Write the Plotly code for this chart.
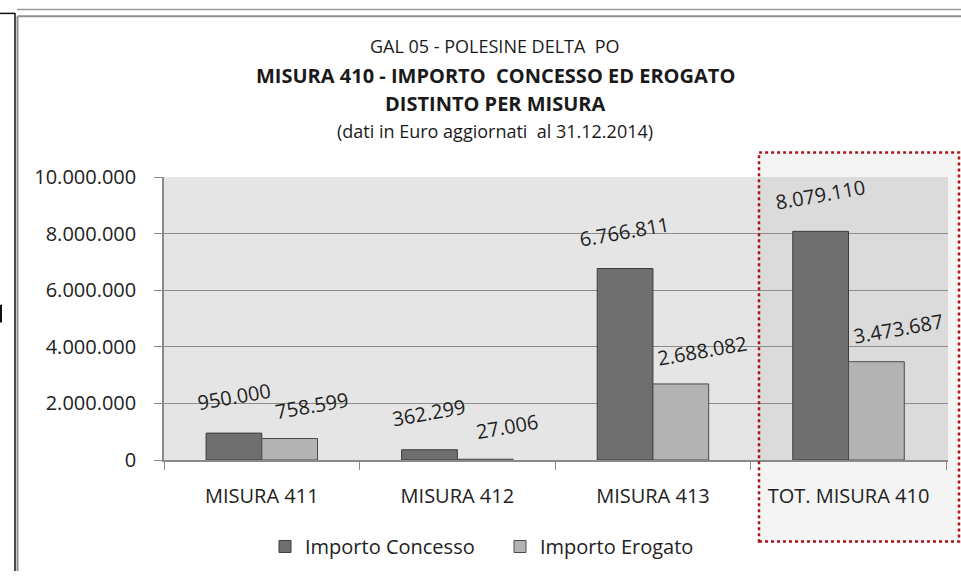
import plotly.graph_objects as go

categories = ["MISURA 411", "MISURA 412", "MISURA 413", "TOT. MISURA 410"]
concesso = [950000, 362299, 6766811, 8079110]
erogato = [758599, 27006, 2688082, 3473687]
series_names = ["Importo Concesso", "Importo Erogato"]
y_ticks = [0, 2000000, 4000000, 6000000, 8000000, 10000000]
title_lines = [
    "GAL 05 - POLESINE DELTA  PO",
    "MISURA 410 - IMPORTO  CONCESSO ED EROGATO",
    "DISTINTO PER MISURA",
    "(dati in Euro aggiornati  al 31.12.2014)",
]

FONT = "Open Sans"
DARK = "#6f6f6f"
LIGHT = "#b3b3b3"

# plot area in pixels
L, R, T, B = 164, 948, 177, 465
W, H = 961, 578


def px(x):
    return (x - L) / (R - L)


def py(y):
    return (B - y) / (B - T)


def it(v):
    return f"{v:,}".replace(",", ".")


fig = go.Figure()
fig.add_trace(go.Bar(x=categories, y=concesso, name=series_names[0],
                     marker=dict(color=DARK, line=dict(color="#3c3c3c", width=1))))
fig.add_trace(go.Bar(x=categories, y=erogato, name=series_names[1],
                     marker=dict(color=LIGHT, line=dict(color="#4a4a4a", width=1))))

annotations = []
for c, v in zip(categories, concesso):
    annotations.append(dict(x=c, y=v, xref="x", yref="y", text=it(v), showarrow=False,
                            xshift=-28, yshift=37, textangle=-10,
                            font=dict(family=FONT, size=20, color="#1e1e1e")))
for c, v in zip(categories, erogato):
    annotations.append(dict(x=c, y=v, xref="x", yref="y", text=it(v), showarrow=False,
                            xshift=50, yshift=33, textangle=-10,
                            font=dict(family=FONT, size=20, color="#1e1e1e")))

title_specs = [(44, 18, False), (74, 20, True), (102, 20, True), (130, 18, False)]
for line, (yy, sz, bold) in zip(title_lines, title_specs):
    annotations.append(dict(x=px(495), y=py(yy), xref="paper", yref="paper",
                            text=f"<b>{line}</b>" if bold else line, showarrow=False,
                            xanchor="center", yanchor="middle",
                            font=dict(family=FONT, size=sz, color="#1a1a1a")))

shapes = [
    # highlighted total area
    dict(type="rect", xref="paper", yref="paper", x0=px(759), x1=px(959), y0=py(548), y1=py(152),
         line=dict(width=0), fillcolor="rgba(0,0,0,0.045)", layer="between"),
    dict(type="rect", xref="paper", yref="paper", x0=px(759), x1=px(959), y0=py(548), y1=py(152),
         line=dict(color="#a8151f", width=2.5, dash="dot"), layer="above"),
    # page frame lines
    dict(type="line", xref="paper", yref="paper", x0=px(15), x1=px(15), y0=py(578), y1=py(10),
         line=dict(color="#111111", width=1.5)),
    dict(type="line", xref="paper", yref="paper", x0=px(0), x1=px(15), y0=py(10.5), y1=py(10.5),
         line=dict(color="#111111", width=1.5)),
    dict(type="line", xref="paper", yref="paper", x0=px(1), x1=px(1), y0=py(325), y1=py(307),
         line=dict(color="#111111", width=2)),
    dict(type="line", xref="paper", yref="paper", x0=px(17), x1=px(961), y0=py(6.5), y1=py(6.5),
         line=dict(color="#9a9a9a", width=1.5)),
    dict(type="line", xref="paper", yref="paper", x0=px(17.5), x1=px(961), y0=py(13.5), y1=py(13.5),
         line=dict(color="#8f8f8f", width=2)),
    dict(type="line", xref="paper", yref="paper", x0=px(17.5), x1=px(17.5), y0=py(578), y1=py(13.5),
         line=dict(color="#8f8f8f", width=2)),
]

fig.update_layout(
    width=W, height=H,
    margin=dict(l=L, r=W - R, t=T, b=H - B, pad=0),
    paper_bgcolor="white",
    plot_bgcolor="#e5e5e5",
    separators=",.",
    barmode="group",
    bargap=0.43,
    bargroupgap=0,
    font=dict(family=FONT, color="#222222"),
    annotations=annotations,
    shapes=shapes,
    legend=dict(orientation="h", x=px(500), y=py(553), xanchor="center", yanchor="middle",
                font=dict(family=FONT, size=20, color="#222222"), entrywidth=190,
                bgcolor="rgba(0,0,0,0)"),
    xaxis=dict(showline=True, linecolor="#8a8a8a", linewidth=1.5, ticks="outside",
               tickson="boundaries", ticklen=8, tickcolor="#8a8a8a",
               tickfont=dict(family=FONT, size=20, color="#222222"), ticklabelstandoff=17,
               showgrid=False),
    yaxis=dict(range=[0, 10000000], tickvals=y_ticks, tickformat=",d",
               showline=True, linecolor="#8a8a8a", linewidth=1.5, ticks="outside",
               ticklen=8, tickcolor="#8a8a8a", gridcolor="#8c8c8c", gridwidth=1.2,
               zeroline=False,
               tickfont=dict(family=FONT, size=20, color="#222222"), ticklabelstandoff=14),
)

fig.write_html("out.html",
               config={"displayModeBar": False},
               post_script="document.body.style.margin='0';document.body.style.padding='0';"
                           "document.body.style.overflow='hidden';")
